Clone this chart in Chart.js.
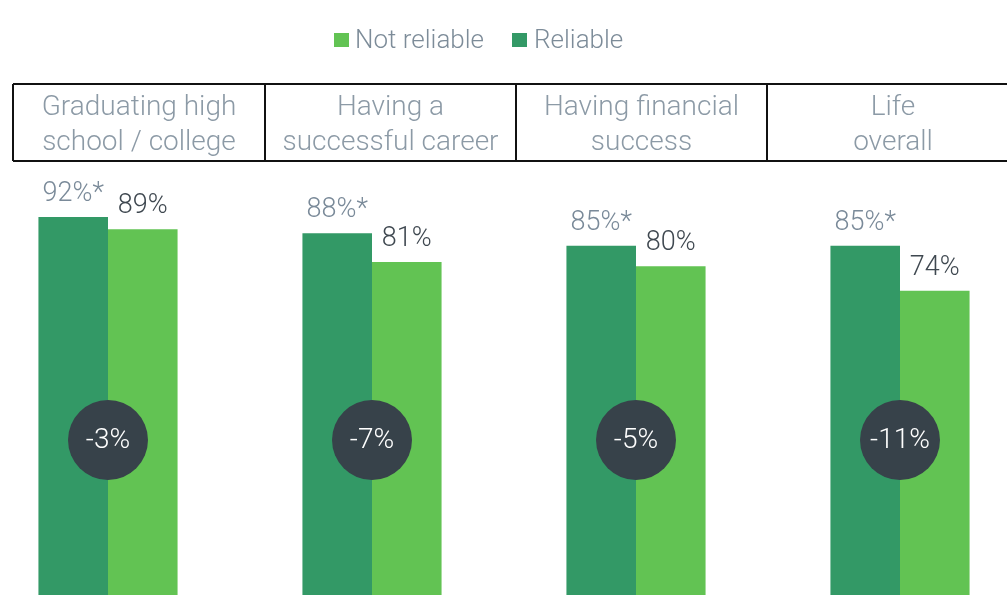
<!DOCTYPE html>
<html>
<head>
<meta charset="utf-8">
<script src="https://cdn.jsdelivr.net/npm/chart.js@4"></script>
<style>
  html, body { margin: 0; padding: 0; background: #fff; }
  #wrap { position: relative; width: 1007px; height: 613px; overflow: hidden; }
  #myChart { position: absolute; left: -24px; top: 0; }
</style>
</head>
<body>
<div id="wrap"><canvas id="myChart" width="1056" height="613"></canvas></div>
<script>
const categories = [
    ['Graduating high', 'school / college'],
    ['Having a', 'successful career'],
    ['Having financial', 'success'],
    ['Life', 'overall']
];
const reliable = [92, 88, 85, 85];
const notReliable = [89, 81, 80, 74];
const reliableLabels = ['92%*', '88%*', '85%*', '85%*'];
const notReliableLabels = ['89%', '81%', '80%', '74%'];
const gaps = ['-3%', '-7%', '-5%', '-11%'];

const darkGreen = '#339966';
const lightGreen = '#62c353';
const FONT = 'Roboto, "Liberation Sans", sans-serif';
const OX = 24; // canvas is shifted left by this much

// header boxes, value labels, circles and legend
const extras = {
    id: 'extras',
    afterDatasetsDraw(chart) {
        const ctx = chart.ctx;
        ctx.save();

        // legend
        ctx.font = '300 26px ' + FONT;
        ctx.textBaseline = 'alphabetic';
        ctx.textAlign = 'left';
        ctx.fillStyle = lightGreen;
        ctx.fillRect(334 + OX, 33, 15, 14);
        ctx.fillStyle = '#7d8c99';
        ctx.fillText('Not reliable', 355 + OX, 48);
        ctx.fillStyle = darkGreen;
        ctx.fillRect(512 + OX, 33, 15, 14);
        ctx.fillStyle = '#7d8c99';
        ctx.fillText('Reliable', 534 + OX, 48);

        // header boxes
        const edges = [13, 265, 516, 767, 1019];
        ctx.strokeStyle = '#111';
        ctx.lineWidth = 2;
        ctx.beginPath();
        ctx.moveTo(edges[0] + OX, 84);
        ctx.lineTo(edges[4] + OX, 84);
        ctx.moveTo(edges[0] + OX, 161);
        ctx.lineTo(edges[4] + OX, 161);
        edges.forEach(e => {
            ctx.moveTo(e + OX, 84);
            ctx.lineTo(e + OX, 161);
        });
        ctx.stroke();

        ctx.font = '300 28px ' + FONT;
        ctx.textAlign = 'center';
        ctx.fillStyle = '#8c9aa6';
        categories.forEach((lines, i) => {
            const cx = (edges[i] + edges[i + 1]) / 2 + OX;
            ctx.fillText(lines[0], cx, 115);
            ctx.fillText(lines[1], cx, 150);
        });

        // value labels
        const m0 = chart.getDatasetMeta(0);
        const m1 = chart.getDatasetMeta(1);
        ctx.font = '300 27px ' + FONT;
        m0.data.forEach((bar, i) => {
            ctx.fillStyle = '#7a8a99';
            ctx.fillText(reliableLabels[i], bar.x, bar.y - 16);
        });
        m1.data.forEach((bar, i) => {
            ctx.fillStyle = '#3f4850';
            ctx.fillText(notReliableLabels[i], bar.x, bar.y - 16);
        });

        // difference circles
        ctx.font = '300 28px ' + FONT;
        chart.scales.x.ticks.forEach((t, i) => {
            const cx = chart.scales.x.getPixelForTick(i);
            ctx.fillStyle = '#37424a';
            ctx.beginPath();
            ctx.arc(cx, 440, 40, 0, Math.PI * 2);
            ctx.fill();
            ctx.fillStyle = '#ffffff';
            ctx.textBaseline = 'middle';
            ctx.fillText(gaps[i], cx, 441);
            ctx.textBaseline = 'alphabetic';
        });

        ctx.restore();
    }
};

new Chart(document.getElementById('myChart'), {
    type: 'bar',
    data: {
        labels: categories.map(c => c.join(' ')),
        datasets: [{
            label: 'Reliable',
            data: reliable,
            backgroundColor: darkGreen
        }, {
            label: 'Not reliable',
            data: notReliable,
            backgroundColor: lightGreen
        }]
    },
    options: {
        responsive: false,
        animation: false,
        layout: { padding: { top: 184, bottom: 18, left: 0, right: 0 } },
        datasets: {
            bar: { categoryPercentage: 0.527, barPercentage: 1.0 }
        },
        plugins: {
            legend: { display: false },
            tooltip: { enabled: false }
        },
        scales: {
            x: { display: false },
            y: { display: false, min: 0, max: 100 }
        }
    },
    plugins: [extras]
});
</script>
</body>
</html>
